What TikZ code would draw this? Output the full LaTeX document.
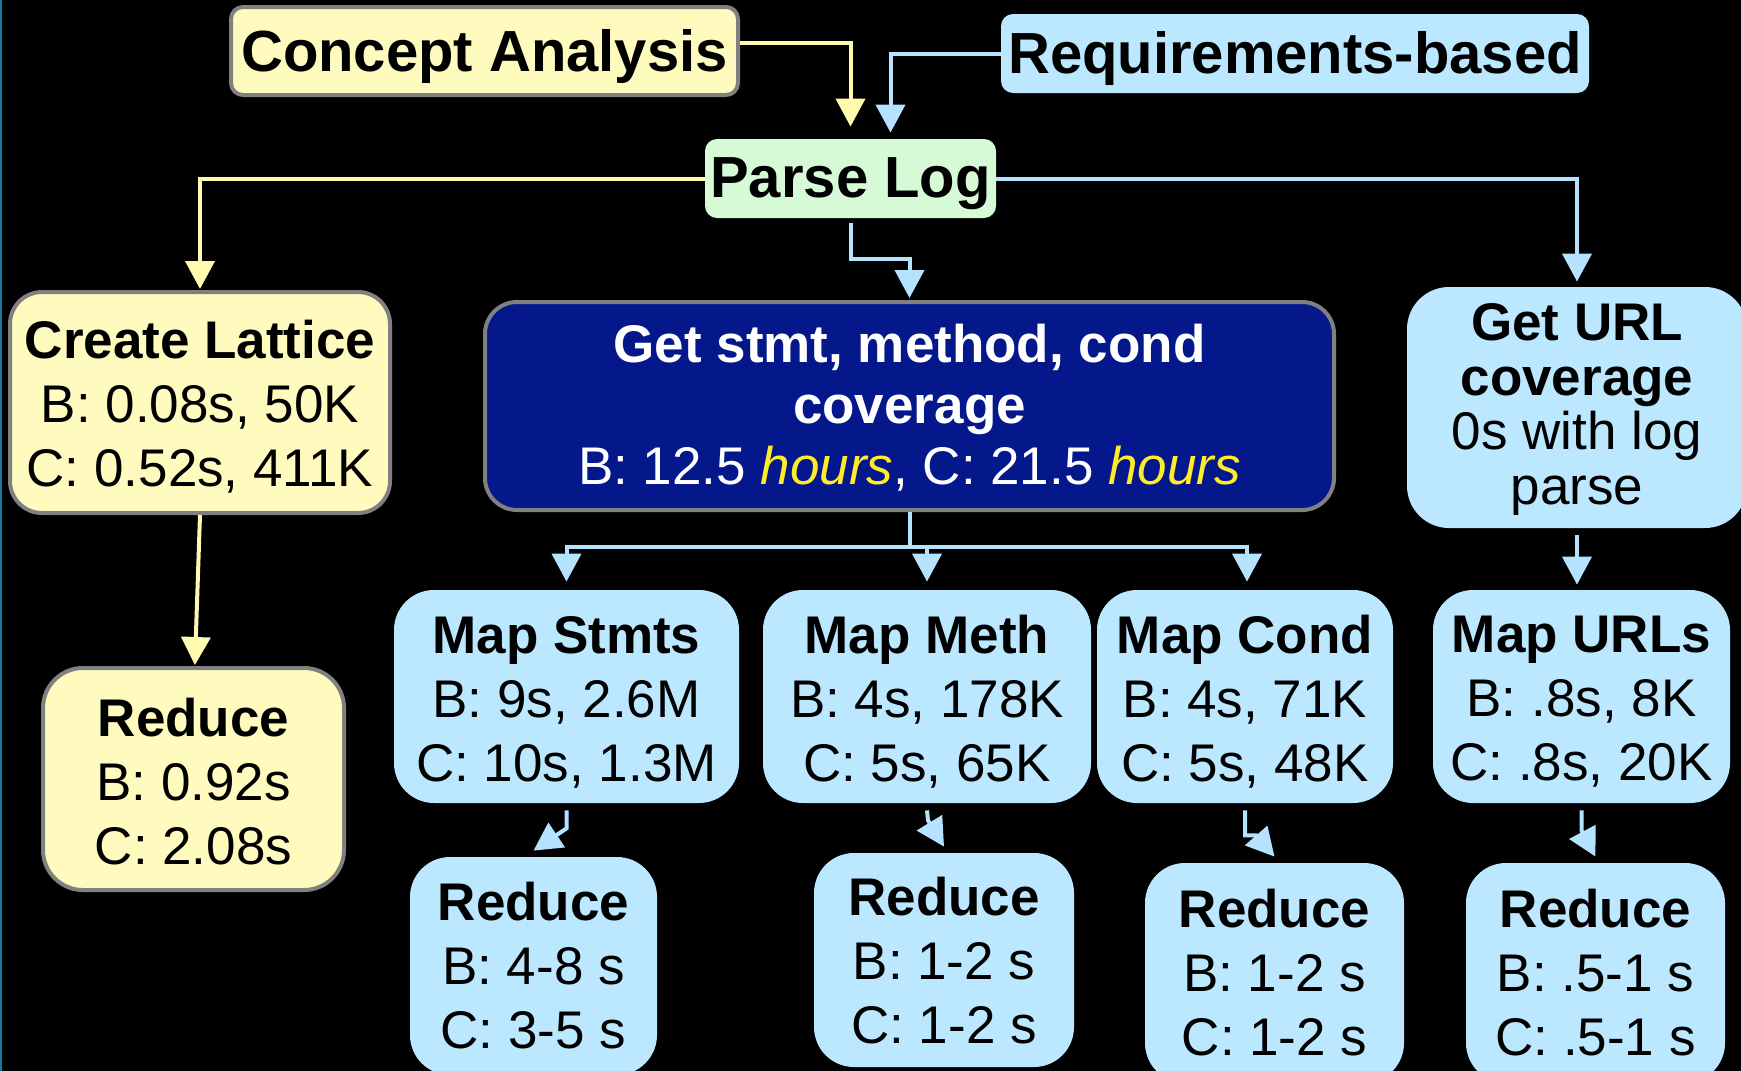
\documentclass[tikz,border=0pt]{standalone}
\usepackage{fontspec}
\setmainfont{Liberation Sans}
\usetikzlibrary{arrows.meta,calc}

\definecolor{yfill}{RGB}{255,251,190}
\definecolor{bfill}{RGB}{187,232,255}
\definecolor{gfill}{RGB}{214,250,214}
\definecolor{navy}{RGB}{4,24,140}
\definecolor{rim}{RGB}{128,128,128}
\definecolor{ylink}{RGB}{255,250,175}
\definecolor{blink}{RGB}{180,226,255}
\definecolor{hrs}{RGB}{255,236,40}
\definecolor{edgeline}{RGB}{20,120,160}

\begin{document}
\begin{tikzpicture}[x=0.5pt,y=-0.5pt,
  boxsize/.style 2 args={minimum width=#1*0.5pt, minimum height=#2*0.5pt},
  card/.style={rectangle, inner sep=0pt},
  ycard/.style={card, fill=yfill, draw=rim, line width=2pt},
  bcard/.style={card, fill=bfill},
  txt/.style={align=center, inner sep=0pt, text=black,
    font=\fontsize{26.5pt}{32pt}\selectfont},
  bigtitle/.style={txt, font=\fontsize{29pt}{34pt}\selectfont\bfseries},
  tip/.style={-{Triangle[width=14.5pt,length=14pt]}},
  yarrow/.style={draw=ylink, line width=2pt, tip},
  barrow/.style={draw=blink, line width=2pt, tip},
  bplain/.style={draw=blink, line width=2pt}
]
% canvas
\useasboundingbox (0,0) rectangle (1741,1071);
\clip (0,0) rectangle (1741,1071);
\fill[black] (0,0) rectangle (1741,1071);
\fill[edgeline] (0,0) rectangle (2,1071);

% top row
\node[ycard, boxsize={507}{88}, rounded corners=6pt] (ca) at (484.5,51) {};
\node[bigtitle] (ca-t) at ($(ca.center)+(0,5.5)$) {Concept Analysis};
\node[bcard, boxsize={588}{79}, rounded corners=6pt] (rb) at (1295,53.5) {};
\node[bigtitle] (rb-t) at ($(rb.center)+(0,5)$) {Requirements-based};
\node[card, fill=gfill, boxsize={291}{79}, rounded corners=6pt] (pl) at (850.5,178.5) {};
\node[bigtitle] (pl-t) at ($(pl.center)+(0,5.5)$) {Parse Log};

% second row
\node[ycard, boxsize={380}{221}, rounded corners=16pt] (cl) at (200,402.5) {};
\node[txt] (cl-t) at ($(cl.center)+(0,4.5)$)
  {\textbf{Create Lattice}\\B: 0.08s, 50K\\C: 0.52s, 411K};
\node[card, fill=navy, draw=rim, line width=2pt, boxsize={849}{208}, rounded corners=16pt] (gs) at (909.5,406) {};
\node[txt, text=white, font=\fontsize{26.5pt}{30.5pt}\selectfont] (gs-t) at ($(gs.center)+(0,1.5)$)
  {\textbf{Get stmt, method, cond}\\\textbf{coverage}\\B: 12.5 \textcolor{hrs}{\textit{hours}}, C: 21.5 \textcolor{hrs}{\textit{hours}}};
\node[bcard, boxsize={340}{241}, rounded corners=21pt] (gu) at (1577,407.5) {};
\node[txt, font=\fontsize{26.5pt}{27.3pt}\selectfont] (gu-t) at ($(gu.center)+(0,2)$)
  {\textbf{Get URL}\\\textbf{coverage}\\0s with log\\parse};

% map row
\node[ycard, boxsize={301}{222}, rounded corners=20pt] (rl) at (193.5,779) {};
\node[txt] (rl-t) at ($(rl.center)+(0,3)$) {\textbf{Reduce}\\B: 0.92s\\C: 2.08s};
\node[bcard, boxsize={345}{213}, rounded corners=20pt] (ms) at (566.5,696.5) {};
\node[txt] (ms-t) at ($(ms.center)+(0,5.5)$) {\textbf{Map Stmts}\\B: 9s, 2.6M\\C: 10s, 1.3M};
\node[bcard, boxsize={328}{213}, rounded corners=20pt] (mm) at (927,696.5) {};
\node[txt] (mm-t) at ($(mm.center)+(0,5.5)$) {\textbf{Map Meth}\\B: 4s, 178K\\C: 5s, 65K};
\node[bcard, boxsize={296}{213}, rounded corners=20pt] (mc) at (1245,696.5) {};
\node[txt] (mc-t) at ($(mc.center)+(0,5.5)$) {\textbf{Map Cond}\\B: 4s, 71K\\C: 5s, 48K};
\node[bcard, boxsize={297}{213}, rounded corners=20pt] (mu) at (1581.5,696.5) {};
\node[txt] (mu-t) at ($(mu.center)+(0,5.5)$) {\textbf{Map URLs}\\B: .8s, 8K\\C: .8s, 20K};

% reduce row
\node[bcard, boxsize={247}{218}, rounded corners=20pt] (r1) at (533.5,966) {};
\node[txt] (r1-t) at (r1.center) {\textbf{Reduce}\\B: 4-8 s\\C: 3-5 s};
\node[bcard, boxsize={260}{214}, rounded corners=20pt] (r2) at (944,960) {};
\node[txt] (r2-t) at ($(r2.center)+(0,1)$) {\textbf{Reduce}\\B: 1-2 s\\C: 1-2 s};
\node[bcard, boxsize={259}{220}, rounded corners=20pt] (r3) at (1274.5,973) {};
\node[txt] (r3-t) at (r3.center) {\textbf{Reduce}\\B: 1-2 s\\C: 1-2 s};
\node[bcard, boxsize={259}{220}, rounded corners=20pt] (r4) at (1595.5,973) {};
\node[txt] (r4-t) at (r4.center) {\textbf{Reduce}\\B: .5-1 s\\C: .5-1 s};

% connectors into Parse Log
\draw[yarrow] ([yshift=4pt]ca.east) -| ([yshift=6pt]pl.north);
\draw[barrow] (rb.west) -| ([xshift=20pt,yshift=3pt]pl.north);

% connectors out of Parse Log
\draw[yarrow] (pl.west) -| ([yshift=0.5pt]cl.north);
\draw[barrow] (pl.east) -| ([yshift=2.5pt]gu.north);
\draw[barrow] ([yshift=-2.5pt]pl.south) |- ($(pl.south)!0.5!(gs.north)$) -| ([yshift=1pt]gs.north);

% coverage split into the three maps
\coordinate (split) at ($(gs.south)+(0,35)$);
\draw[bplain] (gs.south) -- (split);
\draw[barrow] (split) -| ([yshift=4pt]ms.north);
\draw[barrow] (split) -| ([yshift=4pt]mm.north);
\draw[barrow] (split) -| ([xshift=1pt,yshift=4pt]mc.north);
\draw[barrow] ([yshift=-3.5pt]gu.south) -- ([yshift=2.5pt]gu.south |- mu.north);

% lattice to its reduce
\draw[yarrow] (cl.south) -- ([xshift=0.7pt,yshift=0.5pt]rl.north);

% maps to reduces
\draw[barrow] ([yshift=-3.5pt]ms.south) -- ($(ms.south)+(0,25)$) -- ([yshift=3pt]r1.north);
\draw[barrow] ([yshift=-3.5pt]mm.south) -- ($(mm.south)+(1,17)$) -- ([yshift=3pt]r2.north);
\draw[barrow] ([yshift=-3.5pt]mc.south) |- ($(mc.south)+(11,32)$) -- ([yshift=3pt]r3.north);
\draw[barrow] ([yshift=-3.5pt]mu.south) -- ($(mu.south)+(0,27)$) -- ([yshift=3pt]r4.north);
\end{tikzpicture}
\end{document}
